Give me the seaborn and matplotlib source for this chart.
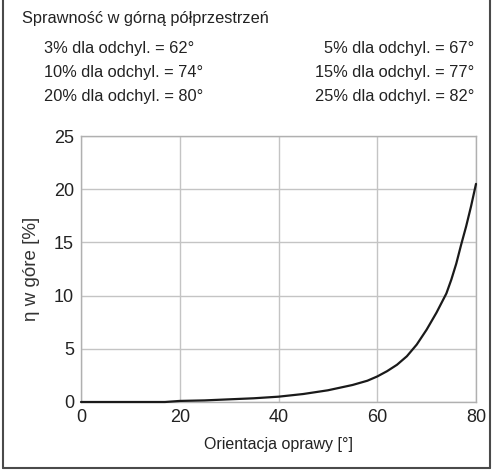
import matplotlib
matplotlib.use("Agg")
import matplotlib.pyplot as plt
import seaborn as sns
import pandas as pd
from matplotlib.lines import Line2D

# Data
orientation = [0, 10, 17, 20, 25, 30, 35, 40, 45, 50, 55, 58, 60, 62, 64, 66, 68, 70, 72, 74, 75, 76, 77, 78, 79, 80]
efficiency = [0.0, 0.0, 0.0, 0.1, 0.15, 0.25, 0.35, 0.5, 0.75, 1.1, 1.6, 2.0, 2.4, 2.9, 3.5, 4.3, 5.4, 6.8, 8.4, 10.2, 11.5, 13.0, 14.8, 16.5, 18.4, 20.5]
x_ticks = [0, 20, 40, 60, 80]
y_ticks = [0, 5, 10, 15, 20, 25]

title_text = "Sprawność w górną półprzestrzeń"
left_notes = ["3% dla odchyl. = 62°", "10% dla odchyl. = 74°", "20% dla odchyl. = 80°"]
right_notes = ["5% dla odchyl. = 67°", "15% dla odchyl. = 77°", "25% dla odchyl. = 82°"]
x_label = "Orientacja oprawy [°]"
y_label = "η w góre [%]"

sns.set_style("white")
plt.rcParams['font.family'] = ['Liberation Sans', 'DejaVu Sans']

df = pd.DataFrame({"x": orientation, "y": efficiency})

fig = plt.figure(figsize=(4.99, 4.73), dpi=100)
ax = fig.add_axes([81/499, 1-402/473, (476-81)/499, (402-136)/473])

sns.lineplot(data=df, x="x", y="y", ax=ax, color="#1a1a1a", linewidth=1.6, clip_on=False, zorder=5)

ax.set_xlim(0, 80)
ax.set_ylim(0, 25)
ax.set_xticks(x_ticks)
ax.set_yticks(y_ticks)
ax.grid(True, color="#c4c4c4", linewidth=1.0)
for s in ax.spines.values():
    s.set_color("#b0b0b0")
    s.set_linewidth(1.0)
ax.tick_params(axis="both", length=3, color="#b0b0b0", labelsize=13, labelcolor="#222222", pad=2)
ax.set_xlabel(x_label, fontsize=11.5, color="#222222", labelpad=8)
ax.set_ylabel(y_label, fontsize=13.5, color="#333333", labelpad=10)

# Header texts
fig.text(22/499, 1-18/473, title_text, fontsize=11.8, color="#222222", va="center", ha="left")
ys = [48, 73, 97]
for yy, lt, rt in zip(ys, left_notes, right_notes):
    fig.text(44/499, 1-yy/473, lt, fontsize=11.8, color="#222222", va="center", ha="left")
    fig.text(474/499, 1-yy/473, rt, fontsize=11.8, color="#222222", va="center", ha="right")

# Outer frame (left, right, bottom)
fc = "#4a4a4a"
fig.add_artist(Line2D([3/499, 3/499], [1-468/473, 1.0], transform=fig.transFigure, color=fc, lw=1.5))
fig.add_artist(Line2D([490/499, 490/499], [1-468/473, 1.0], transform=fig.transFigure, color=fc, lw=1.5))
fig.add_artist(Line2D([3/499, 490/499], [1-468/473, 1-468/473], transform=fig.transFigure, color=fc, lw=1.5))

fig.savefig("out.png", dpi=100)
